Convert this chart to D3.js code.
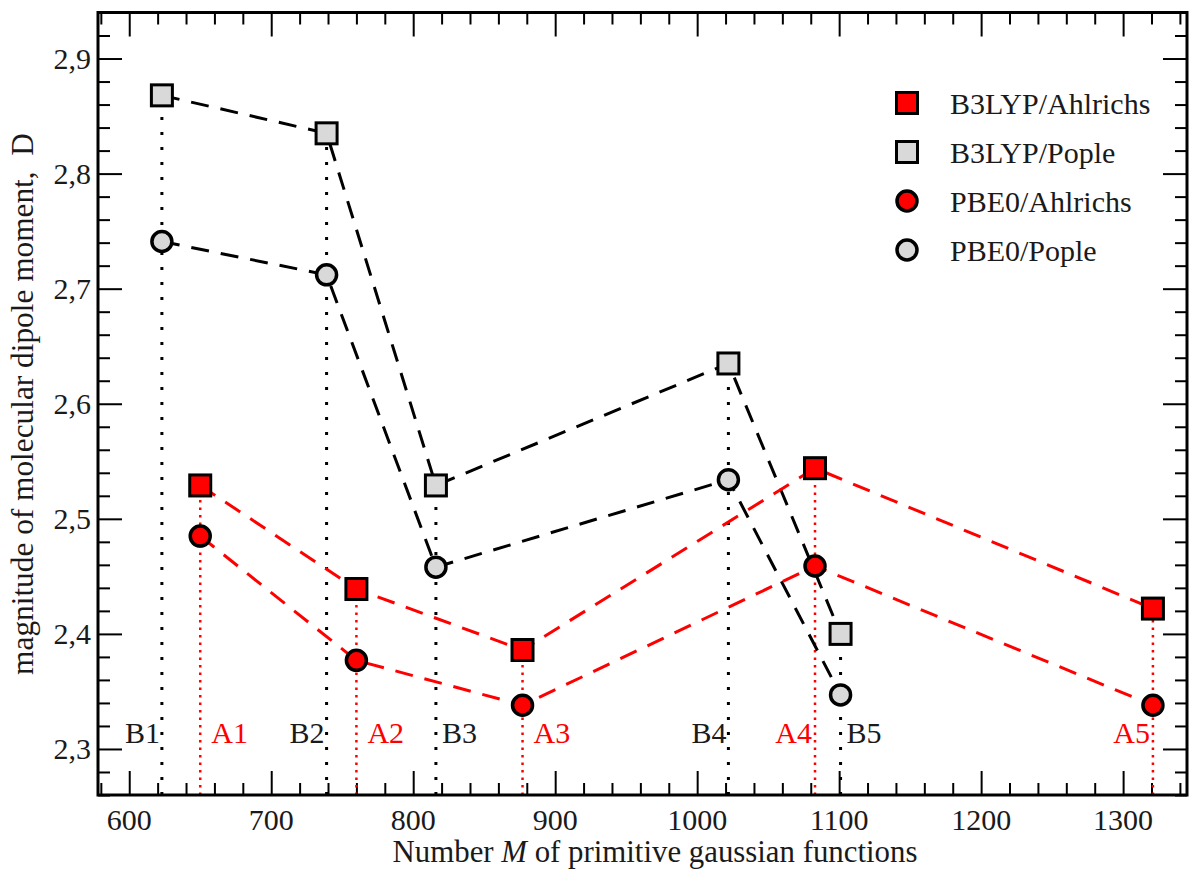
<!DOCTYPE html>
<html>
<head>
<meta charset="utf-8">
<script src="https://cdn.jsdelivr.net/npm/d3@7"></script>
<style>
  body { margin: 0; background: #fff; }
</style>
</head>
<body>
<div id="chart"></div>
<script>
// data
var labelsB = ["B1", "B2", "B3", "B4", "B5"];
var basisB = [623, 739, 816, 1022, 1101];
var b3lypPople = [2.868, 2.835, 2.529, 2.635, 2.400];
var pbe0Pople = [2.741, 2.712, 2.458, 2.534, 2.347];

var labelsA = ["A1", "A2", "A3", "A4", "A5"];
var basisA = [650, 760, 877, 1083, 1321];
var b3lypAhlrichs = [2.529, 2.439, 2.386, 2.544, 2.422];
var pbe0Ahlrichs = [2.485, 2.377, 2.338, 2.459, 2.338];

var labelSideB = ["left", "left", "right", "left", "right"];
var labelSideA = ["right", "right", "right", "left", "left"];

var xTicks = [600, 700, 800, 900, 1000, 1100, 1200, 1300];
var yTicks = [2.3, 2.4, 2.5, 2.6, 2.7, 2.8, 2.9];

var fontFamily = "'Liberation Serif', 'Times New Roman', serif";
var textColor = "#1a1a1a";

var svgWidth = 1197, svgHeight = 870;
var margin = { top: 12.5, right: 10, bottom: 75, left: 98 };
var width = svgWidth - margin.left - margin.right;
var height = svgHeight - margin.top - margin.bottom;

var svg = d3.select("#chart").append("svg")
    .attr("width", svgWidth)
    .attr("height", svgHeight);

var g = svg.append("g")
    .attr("transform", `translate(${margin.left},${margin.top})`);

var x = d3.scaleLinear().domain([578, 1345]).range([0, width]);
var y = d3.scaleLinear().domain([2.26, 2.94]).range([height, 0]);

var red = "#ff0000";
var grey = "#d9d9d9";

// ticks on all four sides, pointing in
var minorX = d3.range(580, 1345, 20).filter(d => d % 100 !== 0);
var minorY = d3.range(2.26, 2.941, 0.02).map(d => +d.toFixed(2)).filter(d => Math.abs(d * 10 - Math.round(d * 10)) > 1e-6);

function addTicks(axisFn, scale, major, minor, transform) {
  var a = g.append("g").attr("transform", transform);
  a.call(axisFn(scale).tickValues(major).tickSizeInner(-24).tickSizeOuter(0).tickFormat(""));
  a.append("g").call(axisFn(scale).tickValues(minor).tickSizeInner(-12).tickSizeOuter(0).tickFormat(""));
  a.selectAll(".domain").remove();
  a.selectAll("line").attr("stroke", "#000").attr("stroke-width", 2);
  return a;
}
addTicks(d3.axisBottom, x, xTicks, minorX, `translate(0,${height})`);
addTicks(d3.axisTop, x, xTicks, minorX, "translate(0,0)");
addTicks(d3.axisLeft, y, yTicks, minorY, "translate(0,0)");
addTicks(d3.axisRight, y, yTicks, minorY, `translate(${width},0)`);

// tick labels
g.selectAll(".xlab").data(xTicks).enter().append("text")
    .attr("x", d => x(d))
    .attr("y", height + 35)
    .attr("text-anchor", "middle")
    .style("font-family", fontFamily)
    .style("font-size", "30px")
    .attr("fill", textColor)
    .text(d => d);

g.selectAll(".ylab").data(yTicks).enter().append("text")
    .attr("x", -7)
    .attr("y", d => y(d) + 10)
    .attr("text-anchor", "end")
    .style("font-family", fontFamily)
    .style("font-size", "30px")
    .attr("fill", textColor)
    .text(d => d.toFixed(1).replace(".", ","));

// vertical dotted guides, from the bottom up to the top marker
g.selectAll(".guideB").data(basisB).enter().append("line")
    .attr("x1", d => x(d)).attr("x2", d => x(d))
    .attr("y1", height).attr("y2", (d, i) => y(b3lypPople[i]))
    .attr("stroke", "#000").attr("stroke-width", 3)
    .attr("stroke-dasharray", "3,12");

g.selectAll(".guideA").data(basisA).enter().append("line")
    .attr("x1", d => x(d)).attr("x2", d => x(d))
    .attr("y1", height).attr("y2", (d, i) => y(b3lypAhlrichs[i]))
    .attr("stroke", red).attr("stroke-width", 2.5)
    .attr("stroke-dasharray", "2.5,5");

// basis set labels
var labelY = y(2.3) - 6;
g.selectAll(".labB").data(labelsB).enter().append("text")
    .attr("x", (d, i) => x(basisB[i]) + (labelSideB[i] === "left" ? -2 : 6))
    .attr("y", labelY)
    .attr("text-anchor", (d, i) => labelSideB[i] === "left" ? "end" : "start")
    .style("font-family", fontFamily)
    .style("font-size", "30px")
    .attr("fill", textColor)
    .text(d => d);

g.selectAll(".labA").data(labelsA).enter().append("text")
    .attr("x", (d, i) => x(basisA[i]) + (labelSideA[i] === "left" ? -3 : 11))
    .attr("y", labelY)
    .attr("text-anchor", (d, i) => labelSideA[i] === "left" ? "end" : "start")
    .style("font-family", fontFamily)
    .style("font-size", "30px")
    .attr("fill", red)
    .text(d => d);

// dashed connecting lines
function dashed(xs, ys, color) {
  var line = d3.line().x((d, i) => x(xs[i])).y(d => y(d));
  g.append("path")
      .datum(ys)
      .attr("d", line)
      .attr("fill", "none")
      .attr("stroke", color)
      .attr("stroke-width", 3)
      .attr("stroke-dasharray", "18,12");
}
dashed(basisB, b3lypPople, "#000");
dashed(basisB, pbe0Pople, "#000");
dashed(basisA, b3lypAhlrichs, red);
dashed(basisA, pbe0Ahlrichs, red);

// markers
function squares(xs, ys, fill) {
  g.selectAll(null).data(ys).enter().append("rect")
      .attr("x", (d, i) => x(xs[i]) - 10.5)
      .attr("y", d => y(d) - 10.5)
      .attr("width", 21).attr("height", 21)
      .attr("fill", fill).attr("stroke", "#000").attr("stroke-width", 3);
}
function circles(xs, ys, fill) {
  g.selectAll(null).data(ys).enter().append("circle")
      .attr("cx", (d, i) => x(xs[i]))
      .attr("cy", d => y(d))
      .attr("r", 10)
      .attr("fill", fill).attr("stroke", "#000").attr("stroke-width", 3.5);
}
squares(basisB, b3lypPople, grey);
circles(basisB, pbe0Pople, grey);
squares(basisA, b3lypAhlrichs, red);
circles(basisA, pbe0Ahlrichs, red);

// frame
g.append("rect")
    .attr("width", width).attr("height", height)
    .attr("fill", "none").attr("stroke", "#000").attr("stroke-width", 3);

// legend
var legendItems = [
  { name: "B3LYP/Ahlrichs", shape: "square", fill: red },
  { name: "B3LYP/Pople", shape: "square", fill: grey },
  { name: "PBE0/Ahlrichs", shape: "circle", fill: red },
  { name: "PBE0/Pople", shape: "circle", fill: grey }
];
var legend = svg.append("g").attr("transform", "translate(907,103)");
legendItems.forEach(function(d, i) {
  var row = legend.append("g").attr("transform", `translate(0,${i * 49})`);
  if (d.shape === "square") {
    row.append("rect").attr("x", -10.5).attr("y", -10.5).attr("width", 21).attr("height", 21)
        .attr("fill", d.fill).attr("stroke", "#000").attr("stroke-width", 3);
  } else {
    row.append("circle").attr("r", 10)
        .attr("fill", d.fill).attr("stroke", "#000").attr("stroke-width", 3.5);
  }
  row.append("text").attr("x", 43).attr("y", 11)
      .style("font-family", fontFamily)
      .style("font-size", "30px")
      .attr("fill", textColor).text(d.name);
});

// axis titles, sized to the width they take in the original
function fitText(sel, target) {
  var len = sel.node().getComputedTextLength();
  var size = 28 * target / len;
  sel.style("font-size", size + "px");
}

var xTitle = svg.append("text")
    .attr("x", 655)
    .attr("y", 862)
    .attr("text-anchor", "middle")
    .style("font-family", fontFamily)
    .style("font-size", "28px")
    .attr("fill", textColor);
xTitle.append("tspan").text("Number ");
xTitle.append("tspan").style("font-style", "italic").text("M");
xTitle.append("tspan").text(" of primitive gaussian functions");
fitText(xTitle, 525);

var yTitle = svg.append("text")
    .attr("transform", "translate(33,404) rotate(-90)")
    .attr("text-anchor", "middle")
    .style("font-family", fontFamily)
    .style("font-size", "28px")
    .style("white-space", "pre")
    .attr("fill", textColor)
    .text("magnitude of molecular dipole moment,  D");
fitText(yTitle, 542);
</script>
</body>
</html>
